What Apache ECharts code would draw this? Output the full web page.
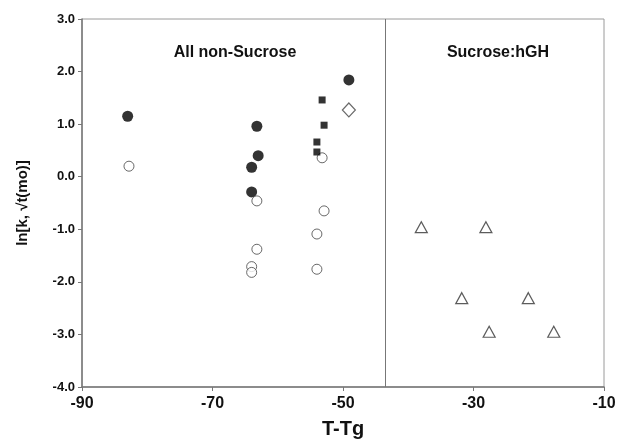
<!DOCTYPE html>
<html>
<head>
<meta charset="utf-8">
<script src="https://cdn.jsdelivr.net/npm/echarts@6/dist/echarts.min.js"></script>
<style>
html, body { margin: 0; padding: 0; background: #fff; }
#graph { width: 619px; height: 446px; }
</style>
</head>
<body>
<div id="graph"></div>
<script>
// values: [T-Tg, ln k]
var filledCircles = [[-83, 1.15], [-63.2, 0.96], [-63, 0.4], [-64, 0.18], [-64, -0.29], [-49.1, 1.84]];
var openCircles = [[-82.8, 0.2], [-63.2, -0.46], [-53.2, 0.36], [-52.9, -0.65], [-63.2, -1.38],
    [-64, -1.71], [-64, -1.82], [-54, -1.09], [-54, -1.76]];
var filledSquares = [[-53.2, 1.46], [-52.9, 0.98], [-54, 0.66], [-54, 0.47]];
var openDiamonds = [[-49.1, 1.27]];
var triangles = [[-38, -0.96], [-28.1, -0.96], [-31.8, -2.31], [-21.6, -2.31], [-27.6, -2.95], [-17.7, -2.95]];
var dividerX = -43.6;
var xTicks = [-90, -70, -50, -30, -10];
var yTicks = [3, 2, 1, 0, -1, -2, -3, -4];

var chart = echarts.init(document.getElementById("graph"));
var font = "Liberation Sans, Arial, sans-serif";

var option = {
    backgroundColor: "#fff",
    animation: false,
    title: [
        {
            text: "All non-Sucrose",
            left: 230,
            top: 40,
            textAlign: "center",
            textStyle: { fontFamily: font, fontSize: 16, fontWeight: "bold", color: "#111" }
        },
        {
            text: "Sucrose:hGH",
            left: 493,
            top: 40,
            textAlign: "center",
            textStyle: { fontFamily: font, fontSize: 16, fontWeight: "bold", color: "#111" }
        }
    ],
    grid: {
        left: 82,
        right: 15,
        top: 19,
        bottom: 59,
        show: true,
        borderColor: "#9a9a9a",
        borderWidth: 1
    },
    xAxis: {
        type: "value",
        min: -90,
        max: -10,
        interval: 20,
        name: "T-Tg",
        nameLocation: "middle",
        nameGap: 32,
        nameTextStyle: { fontFamily: font, fontSize: 20, fontWeight: "bold", color: "#111" },
        axisLine: { show: true, onZero: false, lineStyle: { color: "#777", width: 1.5 } },
        axisTick: { show: true, inside: false, length: 4, lineStyle: { color: "#777" } },
        axisLabel: {
            fontFamily: font, fontSize: 16, fontWeight: "bold", color: "#111", margin: 9,
            formatter: function (v) { return xTicks.indexOf(v) >= 0 ? String(v) : ""; }
        },
        splitLine: { show: false }
    },
    yAxis: {
        type: "value",
        min: -4,
        max: 3,
        interval: 1,
        name: "ln[k, \u221At(mo)]",
        nameLocation: "middle",
        nameGap: 52,
        nameTextStyle: { fontFamily: font, fontSize: 15, fontWeight: "bold", color: "#111" },
        axisLine: { show: true, onZero: false, lineStyle: { color: "#777", width: 1.5 } },
        axisTick: { show: true, inside: false, length: 4, lineStyle: { color: "#777" } },
        axisLabel: {
            fontFamily: font, fontSize: 13, fontWeight: "bold", color: "#111", margin: 7,
            formatter: function (v) { return yTicks.indexOf(v) >= 0 ? v.toFixed(1) : ""; }
        },
        splitLine: { show: false }
    },
    series: [
        {
            name: "filled circles",
            type: "scatter",
            data: filledCircles,
            symbol: "circle",
            symbolSize: 11,
            itemStyle: { color: "#000" },
            markLine: {
                silent: true,
                symbol: "none",
                label: { show: false },
                lineStyle: { color: "#777", type: "solid", width: 1 },
                data: [{ xAxis: dividerX }]
            }
        },
        {
            name: "open circles",
            type: "scatter",
            data: openCircles,
            symbol: "circle",
            symbolSize: 10,
            itemStyle: { color: "#fff", borderColor: "#444", borderWidth: 1 }
        },
        {
            name: "filled squares",
            type: "scatter",
            data: filledSquares,
            symbol: "rect",
            symbolSize: 7,
            itemStyle: { color: "#000" }
        },
        {
            name: "open diamonds",
            type: "scatter",
            data: openDiamonds,
            symbol: "diamond",
            symbolSize: [13, 14],
            itemStyle: { color: "#fff", borderColor: "#444", borderWidth: 1.2 }
        },
        {
            name: "triangles",
            type: "scatter",
            data: triangles,
            symbol: "triangle",
            symbolSize: [12, 11],
            itemStyle: { color: "#fff", borderColor: "#333", borderWidth: 1.2 }
        }
    ]
};

chart.setOption(option);
</script>
</body>
</html>
